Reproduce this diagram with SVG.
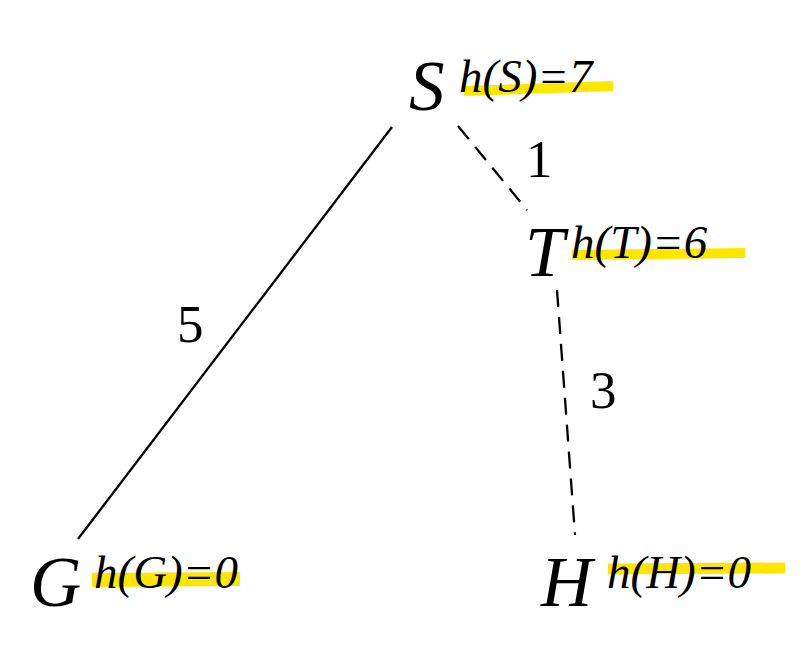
<svg xmlns="http://www.w3.org/2000/svg" width="806" height="665" viewBox="0 0 806 665">
<style>
.big{font-family:"Liberation Serif",serif;font-style:italic;font-size:71px;fill:#000}
.h{font-family:"Liberation Serif",serif;font-style:italic;font-size:47px;fill:#000}
.w{font-family:"Liberation Serif",serif;font-size:53px;fill:#000}
.hl{stroke:#ffe600;stroke-linecap:butt;fill:none}
.e{stroke:#000;stroke-width:2.3;fill:none}
.d{stroke-dasharray:17 10}
</style>
<rect width="806" height="665" fill="#fff"/>
<g id="connectors">
<line class="e" x1="392" y1="127" x2="78" y2="539"/>
<line class="e d" x1="458" y1="126" x2="527" y2="210"/>
<line class="e d" x1="557" y1="290" x2="575" y2="535"/>
<text class="w" x="526" y="177">1</text>
<text class="w" x="177" y="342">5</text>
<text class="w" x="590" y="408">3</text>
</g>
<g id="S">
<line class="hl" stroke-width="10" x1="464" y1="91" x2="613" y2="86"/>
<text class="big" x="409" y="110">S</text>
<text class="h" x="459" y="92">h(S)=7</text>
</g>
<g id="T">
<line class="hl" stroke-width="10" x1="572" y1="255" x2="745" y2="253"/>
<text class="big" x="525" y="276">T</text>
<text class="h" x="571" y="258">h(T)=6</text>
</g>
<g id="G">
<line class="hl" stroke-width="14" x1="92" y1="580" x2="240" y2="579"/>
<text class="big" x="30" y="606">G</text>
<text class="h" x="94" y="588">h(G)=0</text>
</g>
<g id="H">
<line class="hl" stroke-width="11" x1="608" y1="569" x2="785" y2="568"/>
<text class="big" x="541" y="606">H</text>
<text class="h" x="607" y="588">h(H)=0</text>
</g>
</svg>
